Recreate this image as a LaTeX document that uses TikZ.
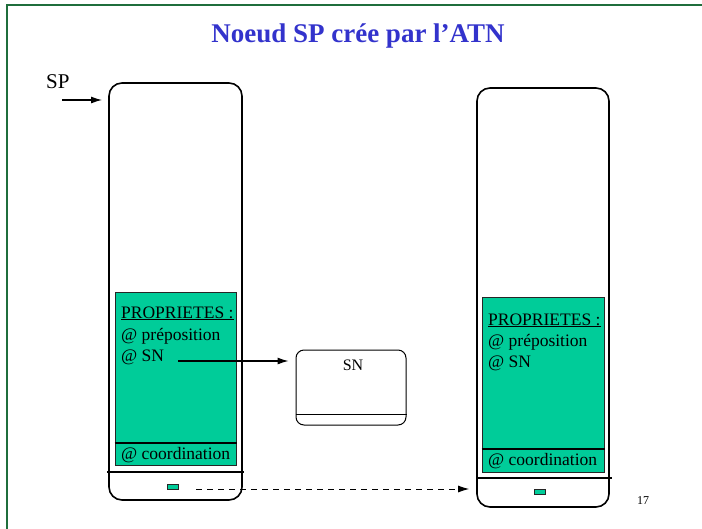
\documentclass[tikz,border=0pt]{standalone}
\usepackage{fontspec}
\setmainfont{Liberation Serif}
\usetikzlibrary{arrows.meta}
\definecolor{framegreen}{HTML}{1F6E3C}
\definecolor{titleblue}{HTML}{3333CC}
\definecolor{propgreen}{HTML}{00CC99}
\begin{document}
\begin{tikzpicture}[x=1pt,y=-1pt,
  bigbox/.style={draw,line width=1.6pt,rounded corners=13pt,inner sep=0pt},
  snbox/.style={draw,line width=1pt,rounded corners=8pt,inner sep=0pt,minimum width=110pt,minimum height=75pt},
  propbox/.style={draw=black!85,fill=propgreen,line width=1pt,inner sep=0pt},
  tinybox/.style={draw=black!85,fill=propgreen,line width=0.8pt,inner sep=0pt,minimum width=11pt,minimum height=5pt},
  txt/.style={anchor=base west,inner sep=0pt,font=\fontsize{17.5}{19}\selectfont},
  sepline/.style={line width=1.2pt},
  arr/.style={line width=1.1pt,-{Latex[length=11pt,width=7pt]}},
  dasharr/.style={line width=1pt,dash pattern=on 6pt off 5pt,-{Latex[length=11pt,width=7pt]}}]
\useasboundingbox (0,0) rectangle (702,528);
\draw[framegreen,line width=2pt] (7,5) rectangle (720,545);
% title
\node[anchor=base,inner sep=0pt,text=titleblue,font=\fontsize{27}{30}\selectfont\bfseries] (title) at (358,42) {Noeud SP crée par l’ATN};
% left structure
\node[bigbox,minimum width=133pt,minimum height=417pt] (L) at (175.5,291.5) {};
\node[propbox,minimum width=121pt,minimum height=173pt] (PL) at (175.5,378.5) {};
\draw[sepline] (PL.west |- 0,443) -- (PL.east |- 0,443);
\draw[line width=1.5pt] (107,472) -- (244,472);
\node[tinybox] (tL) at (172.5,486.5) {};
\node[txt] (pL1) at (121,318) {\underline{PROPRIETES :}};
\node[txt] (pL2) at (121,340) {@ préposition};
\node[txt] (pL3) at (121,361) {@ SN};
\node[txt] (pL4) at (121,459) {@ coordination};
% right structure
\node[bigbox,minimum width=132pt,minimum height=419pt] (R) at (543,297.5) {};
\node[propbox,minimum width=122pt,minimum height=175pt] (PR) at (543,384.5) {};
\draw[sepline] (PR.west |- 0,449) -- (PR.east |- 0,449);
\draw[line width=1.5pt] (477,478) -- (612,478);
\node[tinybox] (tR) at (540,491.5) {};
\node[txt] (pR1) at (488,325) {\underline{PROPRIETES :}};
\node[txt] (pR2) at (488,346) {@ préposition};
\node[txt] (pR3) at (488,367) {@ SN};
\node[txt] (pR4) at (488,465) {@ coordination};
% SN box
\node[snbox] (SN) at (351,387.5) {};
\draw[line width=1pt] (SN.west |- 0,414) -- (SN.east |- 0,414);
\node[anchor=base,inner sep=0pt,font=\fontsize{16}{18}\selectfont] (snlab) at (353,370) {SN};
% SP label and arrow
\node[anchor=base west,inner sep=0pt,font=\fontsize{21}{23}\selectfont] (sp) at (46,88) {SP};
\coordinate (spA) at (62,100);
\coordinate (spB) at (102,100);
\draw[arr] (spA) -- (spB);
% SN pointer arrow
\coordinate (snA) at (178,361);
\draw[arr,shorten >=7pt] (snA) -- (SN.west |- snA);
% dashed arrow
\coordinate (dA) at (196,489);
\draw[dasharr,shorten >=7pt] (dA) -- (R.west |- dA);
% page number
\node[anchor=base,inner sep=0pt,font=\fontsize{12}{14}\selectfont] (pg) at (643,504) {17};
\end{tikzpicture}
\end{document}
